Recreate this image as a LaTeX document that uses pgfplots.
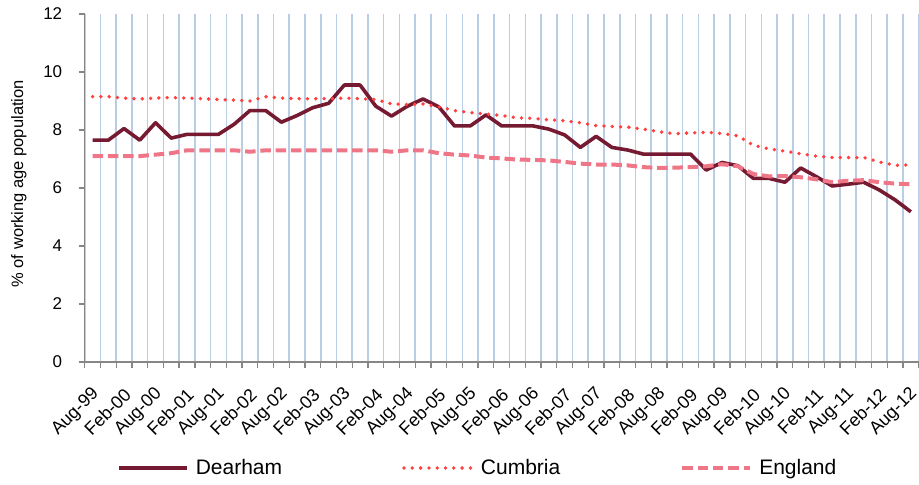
\documentclass[border=0pt]{standalone}
\usepackage{pgfplots}
\pgfplotsset{compat=1.18}
\usepackage{pgfplotstable}
\usepackage{fontspec}
\setmainfont{Liberation Sans}

\definecolor{dearham}{RGB}{117,26,48}
\definecolor{cumbria}{RGB}{255,64,64}
\definecolor{england}{RGB}{238,118,134}
\definecolor{gridblue}{RGB}{185,205,229}
\definecolor{axisgray}{RGB}{134,134,134}

% quarterly, Aug-99 (q=0) to Aug-12 (q=52)
\pgfplotstableread{
q  dearham cumbria england
0  7.65 9.15 7.10
1  7.65 9.15 7.10
2  8.05 9.10 7.10
3  7.65 9.07 7.10
4  8.25 9.10 7.15
5  7.72 9.12 7.20
6  7.85 9.10 7.30
7  7.85 9.08 7.30
8  7.85 9.05 7.30
9  8.20 9.03 7.30
10 8.67 9.00 7.25
11 8.67 9.15 7.30
12 8.27 9.10 7.30
13 8.50 9.08 7.30
14 8.77 9.08 7.30
15 8.92 9.08 7.30
16 9.55 9.10 7.30
17 9.55 9.08 7.30
18 8.82 9.05 7.30
19 8.48 8.90 7.25
20 8.82 8.88 7.30
21 9.07 8.90 7.30
22 8.80 8.80 7.20
23 8.14 8.67 7.15
24 8.14 8.60 7.12
25 8.52 8.55 7.05
26 8.14 8.50 7.02
27 8.14 8.42 6.98
28 8.14 8.40 6.97
29 8.03 8.35 6.95
30 7.83 8.32 6.90
31 7.40 8.25 6.84
32 7.78 8.15 6.81
33 7.40 8.12 6.81
34 7.31 8.10 6.78
35 7.17 8.03 6.72
36 7.17 7.94 6.69
37 7.17 7.87 6.70
38 7.17 7.90 6.72
39 6.62 7.92 6.75
40 6.88 7.88 6.82
41 6.77 7.80 6.75
42 6.33 7.47 6.48
43 6.33 7.35 6.40
44 6.20 7.27 6.41
45 6.69 7.18 6.37
46 6.39 7.10 6.30
47 6.07 7.05 6.20
48 6.13 7.05 6.25
49 6.20 7.05 6.27
50 5.93 6.90 6.20
51 5.59 6.78 6.15
52 5.18 6.80 6.13
}\rates

\begin{document}
\begin{tikzpicture}
\begin{axis}[
  name=ax,
  scale only axis, width=834pt, height=348pt,
  xmin=-0.5, xmax=52.5, ymin=0, ymax=12,
  axis x line*=bottom, axis y line*=left,
  axis line style={draw=axisgray, line width=1.3pt, -},
  tick align=outside, major tick length=6pt,
  tick style={draw=axisgray, line width=1.3pt},
  xtick={-0.5,0.5,...,52.5}, xticklabels={},
  xmajorgrids, x grid style={draw=gridblue, line width=1.6pt},
  extra x ticks={0,2,...,52},
  extra x tick labels={Aug-99,Feb-00,Aug-00,Feb-01,Aug-01,Feb-02,Aug-02,Feb-03,Aug-03,Feb-04,Aug-04,Feb-05,Aug-05,Feb-06,Aug-06,Feb-07,Aug-07,Feb-08,Aug-08,Feb-09,Aug-09,Feb-10,Aug-10,Feb-11,Aug-11,Feb-12,Aug-12},
  extra x tick style={grid=none, tick style={draw=none},
    tick label style={font=\fontsize{18}{20}\selectfont,
      xshift=6pt, yshift=-21pt, rotate=45, anchor=east}},
  ytick={0,2,...,12},
  tick label style={font=\fontsize{17}{20}\selectfont},
  /pgf/number format/assume math mode=true,
  yticklabel style={xshift=-13pt},
  ylabel={\% of working age population},
  ylabel style={font=\fontsize{16.5}{20}\selectfont,
    at={(axis description cs:-0.0788,0.512)}, anchor=center},
  legend columns=3,
  legend cell align=left,
  legend image code/.code={\draw[#1] (0pt,0pt) -- (68pt,0pt);},
  legend style={draw=none, fill=none, inner sep=0pt,
    at={(axis description cs:0.0387,-0.3046)}, anchor=west,
    font=\fontsize{21}{24}\selectfont,
    /tikz/every odd column/.append style={column sep=5pt},
    /tikz/every even column/.append style={column sep=118pt}},
]
\addplot[dearham, line width=3.6pt, line join=round] table[x=q, y=dearham]{\rates};
\addlegendentry{Dearham}
\addplot[cumbria, line width=3.8pt, line cap=round, dash pattern=on 0pt off 8.3pt] table[x=q, y=cumbria]{\rates};
\addlegendentry{Cumbria}
\addplot[england, line width=4pt, dash pattern=on 10.5pt off 4.8pt] table[x=q, y=england]{\rates};
\addlegendentry{England}
\end{axis}
\pgfresetboundingbox
\path ([shift={(-84.7pt,-122pt)}]ax.south west) rectangle ([shift={(0.3pt,14pt)}]ax.north east);
\end{tikzpicture}
\end{document}
